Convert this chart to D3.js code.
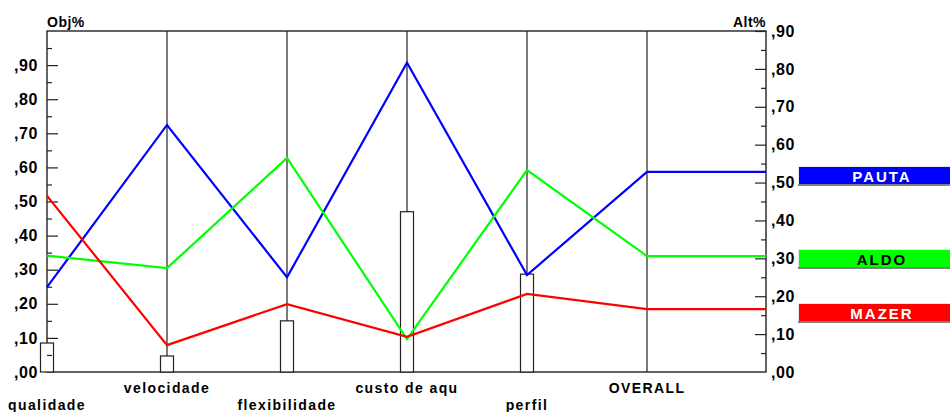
<!DOCTYPE html>
<html>
<head>
<meta charset="utf-8">
<script src="https://cdn.jsdelivr.net/npm/d3@7/dist/d3.min.js"></script>
<style>
  html, body { margin: 0; padding: 0; background: #fff; }
  svg { display: block; }
  text { font-family: "Liberation Sans", Arial, sans-serif; font-weight: bold; fill: #000; }
</style>
</head>
<body>
<svg id="chart" width="950" height="412"></svg>
<script>
// ---- data ----
const categories = ["qualidade", "velocidade", "flexibilidade", "custo de aqu", "perfil", "OVERALL"];
const weights = [0.085, 0.047, 0.15, 0.47, 0.287];            // Obj% bars (left axis)
const seriesNames = ["PAUTA", "ALDO", "MAZER"];
const pauta = [0.224, 0.652, 0.25, 0.816, 0.256, 0.528];      // Alt% (right axis)
const aldo  = [0.307, 0.274, 0.565, 0.087, 0.533, 0.306];
const mazer = [0.465, 0.071, 0.179, 0.093, 0.206, 0.166];
const seriesColors = ["#0000ff", "#00ff00", "#ff0000"];
const seriesTextColors = ["#ffffff", "#000000", "#ffffff"];
const leftTicks = [0, 0.1, 0.2, 0.3, 0.4, 0.5, 0.6, 0.7, 0.8, 0.9];
const rightTicks = [0, 0.1, 0.2, 0.3, 0.4, 0.5, 0.6, 0.7, 0.8, 0.9];

// ---- layout ----
const svg = d3.select("#chart");
const L = 47, R = 766, T = 31, B = 372;
const x = d3.scalePoint().domain(categories).range([L, 647]);
const yL = d3.scaleLinear().domain([0, 1]).range([B, T]);
const yR = d3.scaleLinear().domain([0, 0.9]).range([B, T]);
const fmt = d => "," + d3.format("02d")(Math.round(d * 100));

// vertical criterion lines
svg.append("g").selectAll("line").data(categories.slice(1)).join("line")
  .attr("x1", d => x(d)).attr("x2", d => x(d))
  .attr("y1", T).attr("y2", B)
  .attr("stroke", "#222").attr("stroke-width", 1.2);

// frame
svg.append("rect").attr("x", L).attr("y", T).attr("width", R - L).attr("height", B - T)
  .attr("fill", "none").attr("stroke", "#222").attr("stroke-width", 1.4);

// bars (weights)
svg.append("g").selectAll("rect").data(weights).join("rect")
  .attr("x", (d, i) => x(categories[i]) - 6.5)
  .attr("width", 13)
  .attr("y", d => yL(d))
  .attr("height", d => B - yL(d))
  .attr("fill", "#fff").attr("stroke", "#222").attr("stroke-width", 1.2);

// left axis
const la = svg.append("g").attr("transform", `translate(${L},0)`)
  .call(d3.axisLeft(yL).tickValues(leftTicks).tickSize(-11).tickPadding(9).tickFormat(fmt));
la.select(".domain").remove();
la.selectAll("line").attr("stroke", "#222").attr("stroke-width", 1.2);
la.selectAll("text").style("font-family", "'Liberation Sans', Arial, sans-serif")
  .style("font-size", "16px").style("font-weight", "bold").attr("letter-spacing", 0.6);
const lm = svg.append("g").attr("transform", `translate(${L},0)`)
  .call(d3.axisLeft(yL).tickValues(leftTicks.map(d => d + 0.05)).tickSize(-5).tickFormat(""));
lm.select(".domain").remove();
lm.selectAll("line").attr("stroke", "#222").attr("stroke-width", 1.2);

// right axis
const ra = svg.append("g").attr("transform", `translate(${R},0)`)
  .call(d3.axisRight(yR).tickValues(rightTicks).tickSize(-11).tickPadding(5).tickFormat(fmt));
ra.select(".domain").remove();
ra.selectAll("line").attr("stroke", "#222").attr("stroke-width", 1.2);
ra.selectAll("text").style("font-family", "'Liberation Sans', Arial, sans-serif")
  .style("font-size", "16px").style("font-weight", "bold").attr("letter-spacing", 0.6);
const rm = svg.append("g").attr("transform", `translate(${R},0)`)
  .call(d3.axisRight(yR).tickValues(rightTicks.map(d => d + 0.05).filter(d => d < 0.9)).tickSize(-5).tickFormat(""));
rm.select(".domain").remove();
rm.selectAll("line").attr("stroke", "#222").attr("stroke-width", 1.2);
la.selectAll(".tick line").filter(d => d === 0).remove();
ra.selectAll(".tick line").filter(d => d === 0).remove();

// axis titles
svg.append("text").attr("x", L).attr("y", 27).style("font-size", "14px").attr("letter-spacing", 0.5).text("Obj%");
svg.append("text").attr("x", R).attr("y", 27).attr("text-anchor", "end").style("font-size", "14px").attr("letter-spacing", 0.5).text("Alt%");

// category labels (alternating rows)
svg.append("g").selectAll("text").data(categories).join("text")
  .attr("x", d => x(d))
  .attr("y", (d, i) => i % 2 === 0 ? 410 : 393)
  .attr("text-anchor", "middle")
  .style("font-size", "14px").attr("letter-spacing", 1.4)
  .text(d => d);

// series lines
const seriesData = [pauta, aldo, mazer];
const line = d3.line().x(d => d[0]).y(d => yR(d[1]));
seriesData.forEach((vals, s) => {
  const pts = vals.map((v, i) => [x(categories[i]), v]);
  pts.push([R, vals[vals.length - 1]]);
  svg.append("path").attr("d", line(pts))
    .attr("fill", "none").attr("stroke", seriesColors[s]).attr("stroke-width", 2.2)
    .attr("stroke-linejoin", "miter");
});

// legend buttons
const legendY = [166, 249, 303];
const lg = svg.append("g").selectAll("g").data(seriesNames).join("g")
  .attr("transform", (d, i) => `translate(798,${legendY[i]})`);
lg.append("rect").attr("x", 0).attr("y", 0).attr("width", 160).attr("height", 20).attr("fill", "#808080");
lg.append("rect").attr("x", 0).attr("y", 0).attr("width", 160).attr("height", 18).attr("fill", "#e8e8e8");
lg.append("rect").attr("x", 1).attr("y", 1).attr("width", 160).attr("height", 17)
  .attr("fill", (d, i) => seriesColors[i]);
lg.append("text").attr("x", 84).attr("y", 15.5).attr("text-anchor", "middle")
  .style("font-size", "15px").attr("letter-spacing", 2)
  .style("fill", (d, i) => seriesTextColors[i]).text(d => d);
</script>
</body>
</html>
